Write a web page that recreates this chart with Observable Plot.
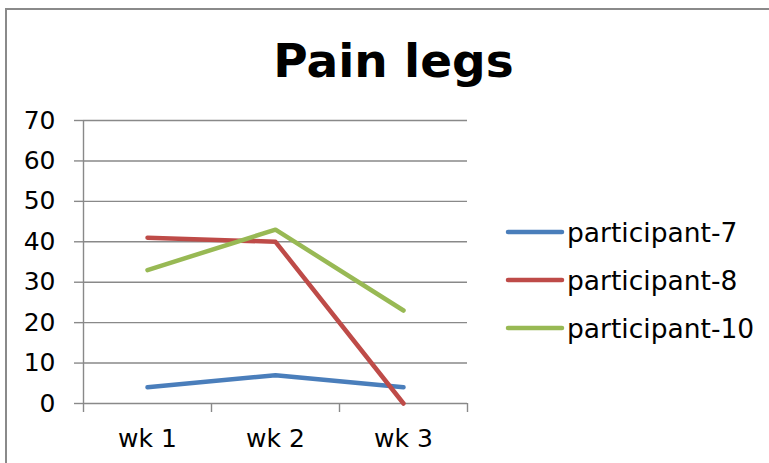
<!DOCTYPE html>
<html>
<head>
<meta charset="utf-8">
<script src="https://cdn.jsdelivr.net/npm/d3@7"></script>
<script src="https://cdn.jsdelivr.net/npm/@observablehq/plot@0.6"></script>
<style>
  html, body { margin: 0; padding: 0; background: #fff; }
  #wrap { position: relative; width: 769px; height: 463px; overflow: hidden; background: #fff; font-family: "DejaVu Sans", Verdana, sans-serif; }
  #frame { position: absolute; left: 5px; top: 8px; width: 900px; height: 600px; border-left: 2px solid #8a8a8a; border-top: 2px solid #8a8a8a; }
  #title { position: absolute; left: 0; top: 33px; width: 787px; text-align: center; font-size: 47px; font-weight: bold; line-height: 56px; color: #000; }
  #chart { position: absolute; left: 0; top: 0; }
  #legend { position: absolute; left: 0; top: 0; pointer-events: none; }
</style>
</head>
<body>
<div id="wrap">
  <div id="frame"></div>
  <div id="chart"></div>
  <div id="title">Pain legs</div>
  <svg id="legend" width="769" height="463"></svg>
</div>
<script>
const weeks = ["wk 1", "wk 2", "wk 3"];
const participants = ["participant-7", "participant-8", "participant-10"];
const p7 = [4, 7, 4];
const p8 = [41, 40, 0];
const p10 = [33, 43, 23];
const colors = ["#4A7EBB", "#BE4B48", "#98B954"];
const yTicks = [0, 10, 20, 30, 40, 50, 60, 70];

const series = [p7, p8, p10];
const rows = participants.flatMap((p, i) =>
  series[i].map((v, j) => ({ participant: p, week: j + 1, value: v }))
);
const weekPos = weeks.map((w, j) => j + 1);
const bounds = [0.5, ...weekPos.map(d => d + 0.5)];

const chart = Plot.plot({
  width: 769,
  height: 463,
  marginLeft: 83,
  marginRight: 302,
  marginTop: 120,
  marginBottom: 60,
  style: { fontFamily: "DejaVu Sans, Verdana, sans-serif", fontSize: "25px", color: "#000", background: "transparent", overflow: "visible" },
  x: { domain: [0.5, weeks.length + 0.5], label: null },
  y: { domain: [0, 70], label: null },
  color: { domain: participants, range: colors },
  marks: [
    Plot.gridY(yTicks, { stroke: "#898989", strokeOpacity: 1, strokeWidth: 1.4 }),
    Plot.ruleX([0.5], { stroke: "#898989", strokeWidth: 1.4 }),
    Plot.axisY(yTicks, { tickSize: 9, tickPadding: 19, stroke: "#898989", strokeWidth: 1.4, tickFormat: d => String(d), label: null }),
    Plot.axisX(bounds, { tickSize: 9, tickFormat: () => "", stroke: "#898989", strokeWidth: 1.4, label: null }),
    Plot.axisX(weekPos, { tickSize: 0, tickPadding: 26, tickFormat: d => weeks[d - 1], label: null }),
    Plot.line(rows, { x: "week", y: "value", z: "participant", stroke: "participant", strokeWidth: 4.5, strokeLinecap: "round", strokeLinejoin: "round" })
  ]
});
document.getElementById("chart").appendChild(chart);

// legend
const leg = d3.select("#legend");
participants.forEach((p, i) => {
  const y = 232 + i * 48;
  leg.append("line")
    .attr("x1", 508).attr("x2", 562).attr("y1", y).attr("y2", y)
    .attr("stroke", colors[i]).attr("stroke-width", 4.5).attr("stroke-linecap", "round");
  leg.append("text")
    .attr("x", 567).attr("y", y + 9.5)
    .attr("font-family", "DejaVu Sans, Verdana, sans-serif")
    .attr("font-size", 26.5).attr("fill", "#000")
    .text(p);
});
</script>
</body>
</html>
